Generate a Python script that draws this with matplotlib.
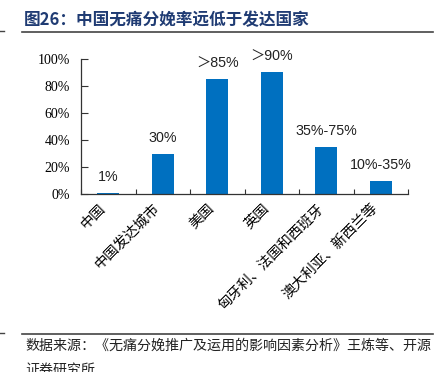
import matplotlib
matplotlib.use('Agg')
import matplotlib.pyplot as plt
from matplotlib.lines import Line2D

# Data
categories = ['中国', '中国发达城市', '美国', '英国', '匈牙利、法国和西班牙', '澳大利亚、新西兰等']
values = [1, 30, 85, 90, 35, 10]
value_labels = ['1%', '30%', '＞85%', '＞90%', '35%-75%', '10%-35%']
y_ticks = [0, 20, 40, 60, 80, 100]
y_tick_labels = ['0%', '20%', '40%', '60%', '80%', '100%']

title = '图26：中国无痛分娩率远低于发达国家'
source = '数据来源：《无痛分娩推广及运用的影响因素分析》王炼等、开源'
source2 = '证券研究所'

cjk = ['Noto Sans CJK SC', 'DejaVu Sans']
num_font = ['Liberation Sans', 'Noto Sans CJK SC']
plt.rcParams['font.family'] = cjk

fig = plt.figure(figsize=(4.41, 3.72), dpi=100)
ax = fig.add_axes([81 / 441, 1 - 194 / 372, (408 - 81) / 441, (194 - 59) / 372])

x = list(range(len(categories)))
bars = ax.bar(x, values, width=0.4, color='#0070C0')

for xi, v, lab in zip(x, values, value_labels):
    ax.annotate(lab, (xi, v), xytext=(0, 11), textcoords='offset points',
                ha='center', va='center', fontsize=10.3, family=num_font, color='#222222')

ax.set_xlim(-0.5, len(categories) - 0.5)
ax.set_ylim(0, 100)
ax.set_yticks(y_ticks)
ax.set_yticklabels(y_tick_labels, family=['Liberation Serif'], fontsize=10)
ax.set_xticks(x)
ax.set_xticklabels(categories, rotation=45, ha='right', va='top', fontsize=10.3)
ax.set_xticks([i - 0.5 for i in range(len(categories) + 1)], minor=True)
ax.tick_params(axis='x', which='major', length=0, pad=5)
ax.tick_params(axis='x', which='minor', direction='in', length=3.5, width=0.8, color='#333333')
ax.tick_params(axis='y', direction='in', length=5, width=0.8, color='#333333', pad=8)

for s in ['top', 'right']:
    ax.spines[s].set_visible(False)
for s in ['left', 'bottom']:
    ax.spines[s].set_color('#333333')
    ax.spines[s].set_linewidth(0.9)

# Title, rules, source
fig.text(24 / 441, 1 - 20 / 372, title, fontsize=12, fontweight='bold', color='#1F3B73',
         ha='left', va='center')
for yy in [31.5, 334]:
    fig.add_artist(Line2D([22 / 441, 433 / 441], [1 - yy / 372] * 2, color='#444444', lw=1.2))
    fig.add_artist(Line2D([0, 4 / 441], [1 - (yy - 1) / 372] * 2, color='#444444', lw=1))
fig.text(25 / 441, 1 - 346 / 372, source, fontsize=10.1, color='#222222', ha='left', va='center')
fig.text(25 / 441, 1 - 370 / 372, source2, fontsize=10.1, color='#222222', ha='left', va='center')

fig.savefig('out.png', dpi=100)
